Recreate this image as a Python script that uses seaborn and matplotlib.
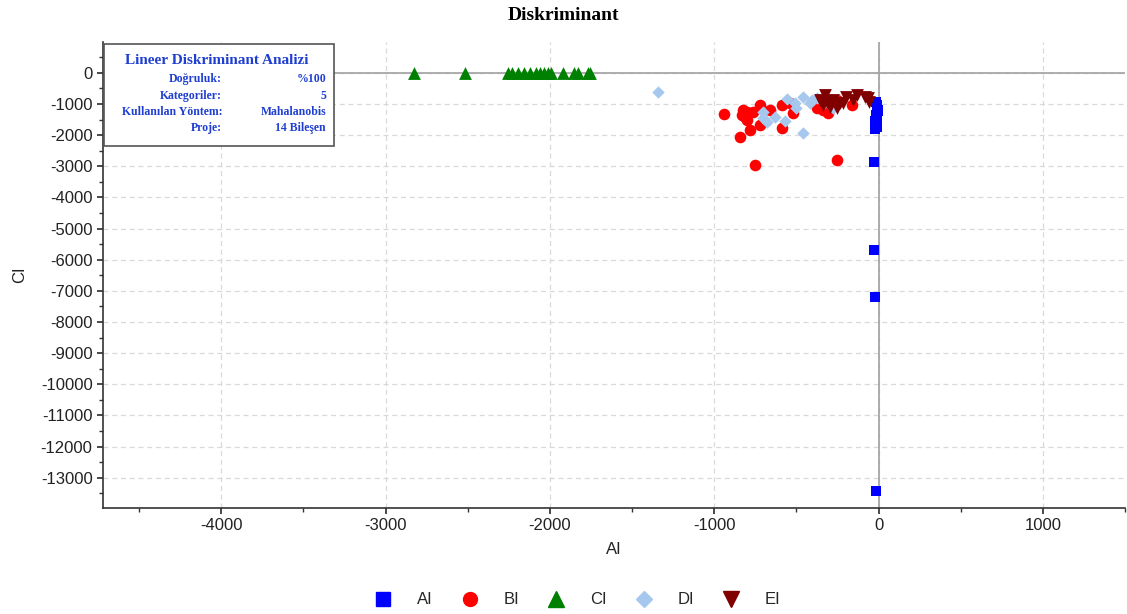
import numpy as np
import pandas as pd
import matplotlib
matplotlib.use("Agg")
import matplotlib.pyplot as plt
from matplotlib.patches import Rectangle
from matplotlib.ticker import MultipleLocator
from matplotlib.lines import Line2D
import seaborn as sns

# ---- data ----
ai_x = [-15, -10, -10, -5, -15, -10, -20, -15, -10, -20, -5, -25, -25, -20, -15]
ai_y = [-930, -1030, -1135, -1240, -1340, -1445, -1550, -1650, -1750, -1800, -1190, -2870, -5680, -7190, -13420]

bi_x = [-940, -842, -824, -812, -800, -782, -764, -721, -721, -751, -660, -590, -590, -800, -830,
        -520, -375, -310, -250, -250, -160, -340, -540]
bi_y = [-1315, -2050, -1190, -1415, -1505, -1825, -1250, -1670, -1030, -2950, -1190, -1030, -1765, -1250, -1340,
        -1285, -1125, -1285, -2790, -870, -1030, -1190, -980]

ci_x = [-2830, -2515, -2255, -2230, -2195, -2160, -2120, -2085, -2060, -2036, -2010, -1994, -1921, -1855, -1830, -1770, -1758]
ci_y = [0, 0, 0, 0, 0, 0, 0, 0, 0, 0, 0, 0, 0, 0, 0, 0, 0]

di_x = [-1345, -703, -680, -630, -570, -560, -510, -500, -460, -460, -420, -405, -375, -280, -703, -330]
di_y = [-610, -1445, -1570, -1415, -1550, -825, -960, -1125, -775, -1930, -960, -870, -805, -1125, -1250, -980]

ei_x = [-327, -315, -358, -280, -195, -133, -85, -67, -218, -297, -158, -236, -55, -340, -255]
ei_y = [-700, -930, -870, -870, -775, -700, -775, -805, -960, -1095, -870, -960, -930, -1030, -1125]

groups = ["AI", "BI", "CI", "DI", "EI"]
colors = ["#0000ff", "#ff0000", "#008000", "#a6c8ef", "#800000"]

title = "Diskriminant"
x_label = "AI"
y_label = "CI"
box_title = "Lineer Diskriminant Analizi"
box_keys = ["Doğruluk:", "Kategoriler:", "Kullanılan Yöntem:", "Proje:"]
box_vals = ["%100", "5", "Mahalanobis", "14 Bileşen"]

# ---- build table ----
frames = []
for g, xs, ys in zip(groups, [ai_x, bi_x, ci_x, di_x, ei_x], [ai_y, bi_y, ci_y, di_y, ei_y]):
    frames.append(pd.DataFrame({"x": xs, "y": ys, "g": g}))
df = pd.concat(frames, ignore_index=True)

sns.set_theme(style="white")
plt.rcParams["font.family"] = ["Liberation Sans", "DejaVu Sans"]
plt.rcParams["axes.unicode_minus"] = False

W, H = 1127, 614
fig = plt.figure(figsize=(W / 100, H / 100), dpi=100)
ax = fig.add_axes([103 / W, 1 - 508 / H, (1125 - 103) / W, (508 - 42) / H])

def fx(px):
    return px / W

def fy(py):
    return 1 - py / H

ax.set_xlim(-4720, 1500)
ax.set_ylim(-13970, 990)
ax.xaxis.set_major_locator(MultipleLocator(1000))
ax.xaxis.set_minor_locator(MultipleLocator(500))
ax.yaxis.set_major_locator(MultipleLocator(1000))
ax.yaxis.set_minor_locator(MultipleLocator(500))
ax.grid(True, which="major", color="#d9d9d9", linestyle=(0, (4, 3)), linewidth=0.9)
ax.axhline(0, color="#a0a0a0", linewidth=1.2, zorder=1)
ax.axvline(0, color="#a0a0a0", linewidth=1.2, zorder=1)

markers = {"AI": "s", "BI": "o", "CI": "^", "DI": "D", "EI": "v"}
palette = dict(zip(groups, colors))
sizes_map = {"AI": 55, "BI": 70, "CI": 85, "DI": 40, "EI": 85}
for g in groups:
    sub = df[df.g == g]
    sns.scatterplot(data=sub, x="x", y="y", color=palette[g], marker=markers[g],
                    s=sizes_map[g], linewidth=0, ax=ax, legend=False, zorder=3)

ax.set_xlabel(x_label, fontsize=12, color="#222222", labelpad=6)
ax.set_ylabel(y_label, fontsize=12, color="#222222", labelpad=10)
ax.tick_params(axis="both", which="major", labelsize=12, length=4, direction="out",
               left=True, bottom=True, color="#333333", labelcolor="#222222")
ax.tick_params(axis="both", which="minor", length=3, direction="out", left=True, bottom=True, color="#333333")
for s in ["top", "right"]:
    ax.spines[s].set_visible(False)
for s in ["left", "bottom"]:
    ax.spines[s].set_color("#333333")
    ax.spines[s].set_linewidth(1.2)

# title
fig.text(0.5, fy(16), title, ha="center", va="center", fontsize=14, fontweight="bold",
         family="Liberation Serif", color="black")

# info box
rect = Rectangle((fx(104), fy(146)), fx(334 - 104), (146 - 44) / H, transform=fig.transFigure,
                 facecolor="white", edgecolor="#555555", linewidth=1.2, zorder=5)
fig.patches.append(rect)
blue = "#1f3fd0"
fig.text(fx(217), fy(61), box_title, ha="center", va="center", fontsize=11, fontweight="bold",
         family="Liberation Serif", color=blue, zorder=6)
rows_y = [79, 96, 112, 128]
for k, v, yy in zip(box_keys, box_vals, rows_y):
    fig.text(fx(222), fy(yy), k, ha="right", va="center", fontsize=8.5, fontweight="bold",
             family="Liberation Serif", color=blue, zorder=6)
    fig.text(fx(326), fy(yy), v, ha="right", va="center", fontsize=8.5, fontweight="bold",
             family="Liberation Serif", color=blue, zorder=6)

# legend
handles = [Line2D([], [], linestyle="none", marker=markers[g], color=palette[g],
                  markersize={"AI": 10, "BI": 10, "CI": 11, "DI": 8, "EI": 11}[g]) for g in groups]
fig.legend(handles, groups, loc="center", bbox_to_anchor=(0.5 + 10 / W, fy(600)), ncol=5, frameon=False,
           fontsize=12, handletextpad=1.0, columnspacing=1.25)

fig.savefig("out.png", dpi=100)
